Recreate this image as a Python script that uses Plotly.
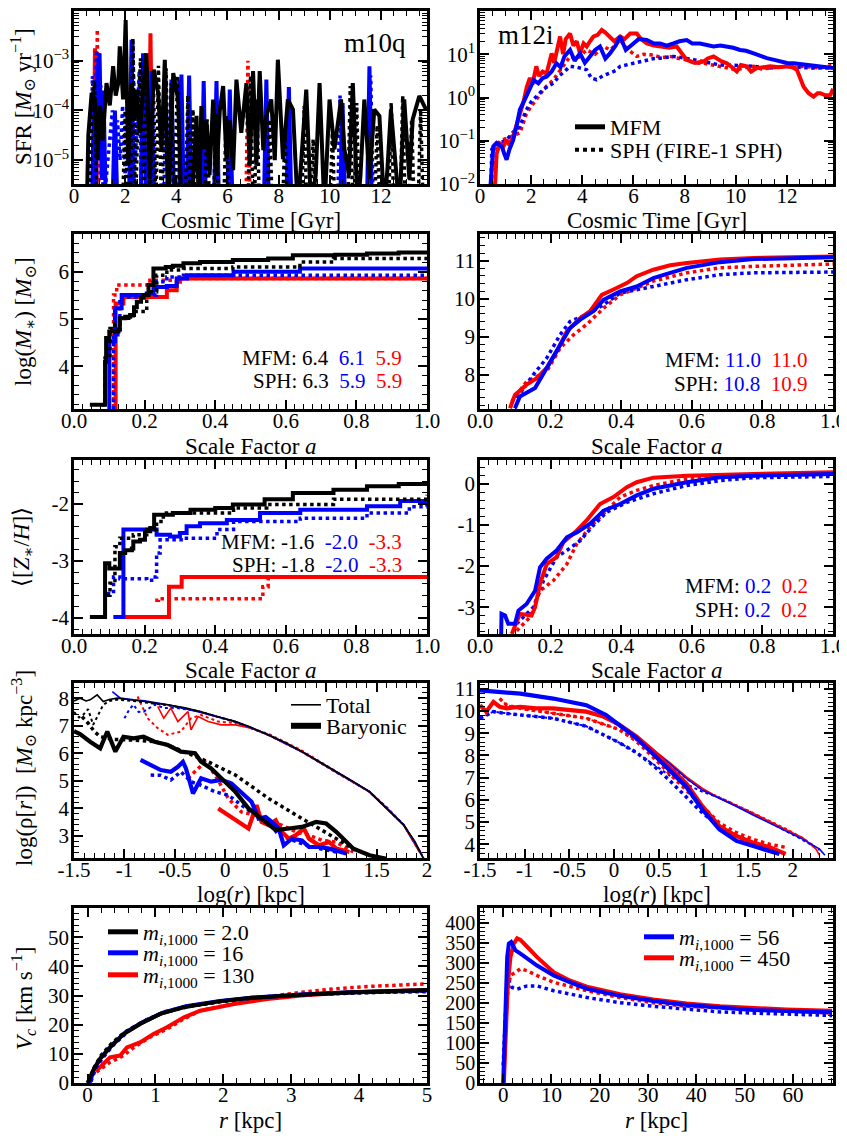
import plotly.graph_objects as go

FONT = "Liberation Serif, Tinos, Times New Roman, Nimbus Roman, DejaVu Serif, serif"
BLACK, BLUE, RED = "#000000", "#0000ff", "#ff0000"

# ---------------- Panel 1: m10q SFR, (cosmic time [Gyr], log10 SFR); -6 = no SF (below axis)
m10q_sfr_black_mfm = [(0.50,-6),(0.56,-4.5),(0.69,-3.65),(0.82,-3.78),(0.92,-5.0),(1.01,-3.91),(1.12,-4.6),(1.27,-3.45),(1.40,-3.9),(1.53,-3.11),(1.63,-3.7),(1.73,-3.45),(1.79,-2.71),(1.92,-3.78),(2.02,-2.18),(2.12,-5.11),(2.25,-3.45),(2.35,-4.2),(2.44,-3.58),(2.57,-4.45),(2.70,-3.6),(2.83,-2.85),(2.96,-5.38),(3.12,-3.18),(3.29,-3.65),(3.42,-4.8),(3.55,-2.98),(3.68,-6),(3.88,-3.25),(4.07,-3.78),(4.2,-6),(4.6,-6),(4.79,-4.11),(4.88,-6),(4.98,-3.91),(5.1,-4.78),(5.18,-4.2),(5.3,-5.3),(5.44,-3.78),(5.57,-5.31),(5.70,-4.0),(5.83,-3.51),(5.96,-4.98),(6.09,-4.2),(6.22,-5.2),(6.35,-3.38),(6.54,-4.45),(6.74,-3.45),(6.87,-5.11),(7.0,-3.21),(7.13,-5.11),(7.26,-3.21),(7.40,-4.8),(7.52,-4.11),(7.71,-3.78),(7.85,-5.0),(7.97,-2.98),(8.17,-4.98),(8.36,-3.78),(8.56,-3.98),(8.75,-6),(8.88,-5.05),(9.08,-3.58),(9.27,-6),(9.45,-5.3),(9.6,-3.45),(9.79,-6),(9.99,-3.78),(10.18,-4.78),(10.44,-3.78),(10.57,-4.78),(10.75,-5.3),(10.9,-3.45),(11.09,-6),(11.2,-5.3),(11.35,-3.78),(11.55,-5.38),(11.74,-3.98),(11.94,-4.11),(12.13,-6),(12.25,-5.2),(12.39,-3.98),(12.6,-5.38),(12.72,-6),(12.91,-3.78),(13.11,-5.38),(13.24,-4.18),(13.5,-3.71),(13.76,-3.98)]
m10q_sfr_black_sph = [(0.6,-6),(0.7,-4.0),(0.8,-3.4),(0.9,-6),(1.9,-6),(2.0,-4.0),(2.1,-6),(2.2,-6),(2.3,-2.55),(2.4,-6),(2.5,-4.2),(2.6,-2.95),(2.72,-6),(2.85,-3.15),(2.97,-6),(3.1,-3.3),(3.2,-6),(3.3,-3.1),(3.42,-6),(3.6,-3.15),(3.7,-6),(3.8,-3.45),(3.9,-6),(4.05,-3.3),(4.15,-6),(4.35,-6),(4.45,-3.7),(4.55,-6),(4.65,-3.98),(4.75,-6),(5.1,-6),(5.2,-4.18),(5.3,-6),(5.45,-6),(5.55,-4.05),(5.65,-6),(5.85,-6),(5.95,-4.11),(6.05,-6),(6.8,-6),(6.9,-3.3),(7.0,-6),(7.05,-6),(7.15,-3.78),(7.25,-6),(7.55,-6),(7.65,-4.18),(7.75,-6),(8.15,-6),(8.25,-4.45),(8.35,-6),(8.9,-6),(9.0,-3.91),(9.1,-6),(9.25,-6),(9.35,-4.58),(9.45,-6),(10.0,-6),(10.1,-4.45),(10.2,-6),(10.7,-6),(10.8,-3.51),(10.9,-6),(10.95,-6),(11.05,-3.85),(11.15,-6),(11.75,-6),(11.85,-4.3),(11.95,-6),(12.3,-6),(12.4,-3.85),(12.5,-6),(12.75,-6),(12.85,-3.71),(12.95,-6),(13.1,-6),(13.2,-4.18),(13.3,-6),(13.45,-6),(13.55,-3.98),(13.65,-6)]
m10q_sfr_blue_mfm = [(0.7,-6),(0.78,-3.7),(0.85,-6),(0.92,-3.2),(1.0,-2.85),(1.08,-5.4),(1.15,-3.6),(1.25,-6),(1.5,-6),(1.6,-4.0),(1.7,-6),(2.15,-6),(2.25,-2.58),(2.35,-6),(2.6,-6),(2.7,-2.85),(2.82,-6),(2.95,-6),(3.03,-3.21),(3.12,-6),(3.7,-6),(3.81,-3.38),(3.92,-6),(4.1,-6),(4.2,-3.28),(4.3,-6),(4.4,-6),(4.5,-3.3),(4.6,-6),(4.98,-6),(5.07,-3.41),(5.16,-6),(5.47,-6),(5.57,-3.41),(5.67,-6),(5.99,-6),(6.09,-3.58),(6.2,-6),(7.42,-6),(7.52,-3.38),(7.62,-6),(8.3,-6),(8.4,-3.53),(8.5,-6),(10.4,-6),(10.5,-3.85),(10.6,-6),(11.45,-6),(11.55,-3.11),(11.65,-6)]
m10q_sfr_blue_sph = [(0.65,-6),(0.72,-3.31),(0.8,-4.5),(0.88,-2.78),(0.95,-5.0),(1.05,-3.5),(1.15,-6),(1.5,-4.0),(1.6,-5.3),(1.7,-4.2),(1.8,-5.0),(1.9,-3.9),(2.0,-5.3),(2.1,-3.6),(2.2,-6),(2.3,-2.6),(2.4,-5.0),(2.55,-3.2),(2.65,-6),(2.95,-6),(3.05,-3.3),(3.15,-6),(3.5,-6),(3.6,-3.4),(3.7,-6),(4.0,-6),(4.1,-3.4),(4.2,-6),(10.3,-6),(10.4,-3.7),(10.5,-6),(11.5,-6),(11.6,-3.3),(11.7,-6)]
m10q_sfr_red_mfm = [(0.75,-6),(0.82,-2.75),(0.9,-6),(2.9,-6),(2.99,-2.45),(3.08,-6)]
m10q_sfr_red_sph = [(0.85,-6),(0.91,-2.37),(0.98,-6),(2.15,-6),(2.25,-2.9),(2.33,-6),(6.72,-6),(6.8,-3.0),(6.88,-6)]

# ---------------- Panel 2: m12i SFR
m12i_sfr_red_mfm = [(0.55,-2.5),(0.59,-1.98),(0.65,-1.3),(0.78,-1.05),(0.9,-1.15),(1.04,-0.98),(1.15,-1.1),(1.3,-0.9),(1.45,-0.6),(1.56,-0.36),(1.7,-0.1),(1.83,0.25),(1.95,0.45),(2.05,0.3),(2.2,0.72),(2.3,0.5),(2.45,0.6),(2.6,0.55),(2.7,0.75),(2.8,1.02),(2.9,0.8),(3.0,1.05),(3.13,1.41),(3.25,1.0),(3.35,1.35),(3.52,1.48),(3.65,1.2),(3.78,1.3),(3.91,1.02),(4.05,1.25),(4.17,1.18),(4.3,1.3),(4.43,1.41),(4.6,1.45),(4.76,1.56),(4.9,1.5),(5.08,1.41),(5.25,1.3),(5.48,1.41),(5.65,1.35),(5.87,1.48),(6.13,1.48),(6.3,1.35),(6.52,1.25),(6.8,1.2),(7.04,1.18),(7.4,1.15),(7.69,1.18),(7.9,1.0),(8.08,0.87),(8.4,0.8),(8.74,0.83),(8.9,0.9),(9.13,0.95),(9.4,0.85),(9.65,0.79),(9.85,0.7),(10.04,0.6),(10.2,0.75),(10.43,0.72),(10.6,0.6),(10.82,0.68),(11.1,0.7),(11.34,0.72),(11.7,0.7),(12.0,0.72),(12.2,0.7),(12.39,0.64),(12.55,0.4),(12.65,0.25),(12.85,0.1),(13.04,0.02),(13.2,0.1),(13.3,0.1),(13.5,0.05),(13.7,0.06),(13.8,0.2)]
m12i_sfr_red_sph = [(0.55,-2.2),(0.65,-1.13),(0.8,-1.0),(1.0,-0.95),(1.2,-0.9),(1.56,-0.82),(1.8,-0.4),(2.0,-0.2),(2.2,-0.05),(2.5,0.2),(2.87,0.41),(3.2,0.7),(3.52,0.95),(3.8,0.9),(4.17,1.1),(4.5,1.0),(4.82,1.18),(5.1,1.1),(5.48,1.33),(5.8,1.1),(6.13,0.95),(6.4,1.0),(6.78,0.98),(7.1,0.92),(7.43,0.95),(7.8,0.9),(8.08,0.87),(8.4,0.8),(8.74,0.79),(9.1,0.75),(9.39,0.72),(9.7,0.68),(10.04,0.64),(10.4,0.7),(10.7,0.72),(11.0,0.66),(11.34,0.68),(11.7,0.7),(12.0,0.72),(12.3,0.7),(12.65,0.72),(13.0,0.7),(13.3,0.68),(13.6,0.72),(13.8,0.75)]
m12i_sfr_blue_mfm = [(0.39,-2.2),(0.45,-1.5),(0.52,-1.13),(0.65,-1.05),(0.75,-1.1),(0.85,-1.13),(0.95,-1.3),(1.04,-1.44),(1.15,-1.2),(1.3,-0.98),(1.45,-0.6),(1.56,-0.28),(1.75,-0.05),(1.95,0.18),(2.1,0.4),(2.28,0.33),(2.45,0.45),(2.6,0.48),(2.8,0.6),(2.99,0.79),(3.15,0.7),(3.3,0.95),(3.52,1.1),(3.7,0.85),(3.91,1.02),(4.1,0.8),(4.3,0.95),(4.5,1.1),(4.69,1.18),(4.9,0.9),(5.08,1.02),(5.3,1.2),(5.48,1.41),(5.7,1.1),(6.0,1.25),(6.2,1.35),(6.52,1.33),(6.8,1.25),(7.04,1.25),(7.3,1.2),(7.56,1.25),(7.8,1.3),(8.08,1.33),(8.3,1.25),(8.6,1.25),(8.9,1.22),(9.13,1.18),(9.4,1.2),(9.65,1.18),(9.9,1.15),(10.17,1.1),(10.4,1.08),(10.7,1.02),(11.0,0.95),(11.21,0.91),(11.5,0.87),(11.74,0.83),(12.0,0.8),(12.26,0.79),(12.5,0.77),(12.78,0.75),(13.0,0.73),(13.3,0.72),(13.55,0.7),(13.8,0.68)]
m12i_sfr_blue_sph = [(0.42,-2.2),(0.46,-1.2),(0.6,-1.1),(0.8,-1.05),(1.04,-0.98),(1.3,-0.8),(1.56,-0.67),(1.8,-0.3),(2.0,-0.1),(2.2,0.02),(2.5,0.2),(2.87,0.33),(3.1,0.5),(3.3,0.6),(3.52,0.72),(3.8,0.7),(4.17,0.64),(4.35,0.45),(4.56,0.41),(4.8,0.5),(5.08,0.56),(5.3,0.62),(5.48,0.72),(5.7,0.75),(6.0,0.79),(6.3,0.84),(6.52,0.87),(6.8,0.9),(7.04,0.91),(7.3,0.93),(7.56,0.95),(7.8,0.93),(8.08,0.91),(8.4,0.87),(8.74,0.83),(9.0,0.8),(9.39,0.75),(9.7,0.75),(10.04,0.75),(10.4,0.73),(10.7,0.72),(11.0,0.7),(11.34,0.68),(11.7,0.7),(12.0,0.72),(12.3,0.7),(12.65,0.68),(13.0,0.68),(13.3,0.68),(13.8,0.68)]

# ---------------- Panel 3: m10q log M* vs scale factor (step curves)
m10q_mstar_black_mfm = [(0.045,3.19),(0.088,4.1),(0.091,4.6),(0.10,4.74),(0.126,4.78),(0.13,5.02),(0.145,5.05),(0.159,5.09),(0.17,5.25),(0.178,5.37),(0.19,5.45),(0.197,5.51),(0.211,5.72),(0.225,6.07),(0.26,6.1),(0.28,6.13),(0.31,6.18),(0.357,6.21),(0.45,6.25),(0.55,6.28),(0.62,6.35),(0.74,6.36),(0.83,6.39),(0.92,6.41),(1.0,6.42)]
m10q_mstar_black_sph = [(0.078,3.19),(0.088,4.18),(0.102,4.8),(0.116,4.9),(0.13,5.02),(0.168,5.16),(0.206,5.58),(0.234,5.93),(0.263,6.04),(0.31,6.07),(0.45,6.1),(0.64,6.21),(0.735,6.28),(1.0,6.32)]
m10q_mstar_blue_mfm = [(0.093,3.0),(0.10,4.53),(0.116,5.23),(0.135,5.51),(0.206,5.54),(0.225,5.68),(0.263,5.7),(0.291,5.86),(0.32,5.93),(0.452,6.0),(0.64,6.07),(1.0,6.1)]
m10q_mstar_blue_sph = [(0.105,3.0),(0.112,4.67),(0.13,5.47),(0.206,5.51),(0.234,5.79),(0.263,5.89),(0.31,5.93),(1.0,5.93)]
m10q_mstar_red_mfm = [(0.116,3.0),(0.118,5.33),(0.14,5.47),(0.263,5.61),(0.291,5.79),(0.30,5.86),(1.0,5.86)]
m10q_mstar_red_sph = [(0.11,3.0),(0.112,5.51),(0.121,5.72),(0.215,5.82),(0.291,5.86),(1.0,5.86)]

# ---------------- Panel 4: m12i log M*
m12i_mstar_red_mfm = [(0.085,7.12),(0.099,7.47),(0.132,7.74),(0.161,7.91),(0.189,8.18),(0.217,8.61),(0.246,9.14),(0.284,9.49),(0.312,9.67),(0.345,10.1),(0.378,10.24),(0.416,10.41),(0.444,10.59),(0.491,10.76),(0.539,10.88),(0.586,10.94),(0.68,11.03),(0.775,11.07),(1.0,11.11)]
m12i_mstar_red_sph = [(0.09,7.3),(0.132,7.82),(0.189,8.09),(0.227,8.7),(0.265,9.05),(0.302,9.32),(0.35,9.75),(0.397,10.1),(0.491,10.46),(0.586,10.68),(0.68,10.81),(0.775,10.85),(1.0,10.91)]
m12i_mstar_blue_mfm = [(0.099,7.12),(0.113,7.43),(0.156,7.65),(0.189,8.18),(0.227,8.79),(0.255,9.23),(0.284,9.45),(0.321,9.67),(0.35,9.97),(0.397,10.19),(0.444,10.32),(0.491,10.54),(0.539,10.68),(0.586,10.81),(0.68,10.96),(0.775,11.04),(1.0,11.09)]
m12i_mstar_blue_sph = [(0.104,7.39),(0.151,8.0),(0.189,8.44),(0.227,9.05),(0.255,9.4),(0.302,9.58),(0.35,9.84),(0.397,10.15),(0.491,10.32),(0.586,10.5),(0.68,10.63),(0.775,10.68),(1.0,10.7)]

# ---------------- Panel 5: m10q <[Z*/H]> (step curves)
m10q_z_black_mfm = [(0.045,-3.98),(0.088,-3.04),(0.10,-3.13),(0.13,-2.86),(0.145,-2.81),(0.164,-2.78),(0.168,-2.66),(0.187,-2.63),(0.201,-2.48),(0.216,-2.42),(0.227,-2.19),(0.28,-2.16),(0.33,-2.1),(0.40,-2.07),(0.45,-2.01),(0.54,-1.92),(0.62,-1.81),(0.735,-1.75),(0.83,-1.69),(0.92,-1.65),(1.0,-1.6)]
m10q_z_black_sph = [(0.093,-3.6),(0.102,-3.39),(0.116,-2.75),(0.13,-2.6),(0.168,-2.54),(0.206,-2.45),(0.234,-2.31),(0.253,-2.16),(0.31,-2.16),(0.452,-2.07),(0.546,-2.01),(0.735,-1.92),(1.0,-1.84)]
m10q_z_blue_mfm = [(0.112,-3.98),(0.14,-2.45),(0.216,-2.45),(0.234,-2.54),(0.272,-2.57),(0.30,-2.51),(0.319,-2.39),(0.357,-2.34),(0.433,-2.28),(0.527,-2.16),(0.641,-2.1),(0.83,-2.04),(0.924,-1.95),(1.0,-1.95)]
m10q_z_blue_sph = [(0.093,-3.57),(0.112,-3.28),(0.13,-3.31),(0.206,-3.34),(0.225,-3.28),(0.234,-2.86),(0.244,-2.63),(0.31,-2.6),(0.405,-2.45),(0.452,-2.31),(0.641,-2.25),(0.83,-2.16),(0.95,-2.05),(1.0,-2.01)]
m10q_z_red_mfm = [(0.112,-3.98),(0.269,-3.45),(0.305,-3.28),(1.0,-3.28)]
m10q_z_red_sph = [(0.23,-3.69),(0.239,-3.66),(0.535,-3.45),(0.55,-3.31),(0.56,-3.28),(1.0,-3.28)]

# ---------------- Panel 6: m12i <[Z*/H]>
m12i_z_blue_mfm = [(0.06,-3.65),(0.061,-3.16),(0.071,-3.2),(0.08,-3.4),(0.099,-3.4),(0.109,-3.08),(0.132,-2.92),(0.156,-2.6),(0.17,-2.03),(0.189,-1.82),(0.217,-1.62),(0.246,-1.3),(0.274,-1.18),(0.312,-0.97),(0.35,-0.65),(0.397,-0.49),(0.444,-0.28),(0.491,-0.12),(0.586,0.04),(0.68,0.16),(0.775,0.2),(1.0,0.24)]
m12i_z_red_mfm = [(0.09,-3.65),(0.113,-3.16),(0.146,-3.2),(0.156,-3.0),(0.17,-2.43),(0.189,-1.95),(0.217,-1.78),(0.236,-1.42),(0.274,-1.14),(0.302,-0.89),(0.34,-0.49),(0.378,-0.32),(0.416,-0.08),(0.444,0.04),(0.491,0.15),(0.586,0.2),(0.775,0.24),(1.0,0.28)]
m12i_z_red_sph = [(0.104,-3.57),(0.142,-3.24),(0.17,-2.6),(0.208,-2.35),(0.246,-1.95),(0.274,-1.46),(0.312,-1.05),(0.359,-0.65),(0.397,-0.32),(0.444,-0.16),(0.491,-0.04),(0.586,0.12),(0.775,0.2),(1.0,0.24)]
m12i_z_blue_sph = [(0.104,-3.4),(0.151,-3.0),(0.18,-2.35),(0.217,-1.78),(0.246,-1.62),(0.284,-1.38),(0.321,-1.01),(0.359,-0.69),(0.416,-0.45),(0.491,-0.24),(0.586,-0.04),(0.68,0.08),(0.775,0.15),(1.0,0.18)]

# ---------------- Panel 7: m10q density profiles (log r [kpc], log rho)
m10q_rho_total_black_mfm = [(-1.5,7.9),(-1.44,8.0),(-1.38,7.9),(-1.34,7.94),(-1.27,8.12),(-1.21,7.88),(-1.15,7.95),(-1.07,8.0),(-1.0,7.97),(-0.91,7.94),(-0.8,7.88),(-0.7,7.82),(-0.57,7.76),(-0.4,7.65),(-0.24,7.51),(-0.1,7.35),(0.1,7.15),(0.25,6.95),(0.43,6.67),(0.6,6.38),(0.76,6.06),(0.93,5.7),(1.1,5.33),(1.27,4.97),(1.43,4.6),(1.6,4.0),(1.77,3.39),(1.88,2.8),(1.95,2.3),(2.0,1.9)]
m10q_rho_total_black_sph = [(-1.5,7.5),(-1.45,7.3),(-1.41,7.39),(-1.36,7.6),(-1.31,7.03),(-1.25,7.5),(-1.21,7.76),(-1.15,7.9),(-1.07,7.94),(-0.91,7.9),(-0.7,7.8),(-0.57,7.74),(-0.4,7.63),(-0.24,7.5),(0.1,7.13),(0.43,6.66),(0.76,6.06),(1.1,5.33),(1.43,4.6),(1.6,4.0),(1.77,3.4),(1.95,2.3),(2.0,1.9)]
m10q_rho_total_blue_mfm = [(-1.12,8.24),(-1.04,8.0),(-0.91,7.94),(-0.8,7.9),(-0.57,7.76),(-0.24,7.48),(0.1,7.15),(0.43,6.67),(0.76,6.06),(1.1,5.33),(1.43,4.62),(1.6,4.02),(1.77,3.4),(1.93,2.45),(2.0,1.95)]
m10q_rho_total_blue_sph = [(-1.0,7.27),(-0.95,7.6),(-0.91,7.76),(-0.86,7.5),(-0.81,7.51),(-0.75,7.65),(-0.7,7.76),(-0.6,7.64),(-0.5,7.65),(-0.3,7.55),(0.1,7.15),(0.43,6.66),(0.76,6.05),(1.1,5.3),(1.43,4.6),(1.6,4.0),(1.77,3.4),(1.93,2.4)]
m10q_rho_total_red_mfm = [(-0.67,7.7),(-0.61,7.27),(-0.54,7.64),(-0.47,7.15),(-0.37,7.51),(-0.34,6.85),(-0.27,7.33),(-0.17,7.15),(-0.04,7.03),(0.1,7.03),(0.26,6.91),(0.43,6.66),(0.76,6.05),(1.1,5.33),(1.43,4.6),(1.6,4.0),(1.77,3.38),(1.93,2.4)]
m10q_rho_total_red_sph = [(-0.87,8.06),(-0.8,7.5),(-0.77,7.27),(-0.67,6.91),(-0.57,6.67),(-0.44,6.79),(-0.34,7.27),(-0.24,7.39),(-0.07,7.15),(0.1,7.1),(0.43,6.7),(0.76,6.1),(1.1,5.35),(1.43,4.6),(1.6,4.05),(1.77,3.4),(1.93,2.45)]
m10q_rho_bary_black_mfm = [(-1.5,6.8),(-1.44,6.7),(-1.34,6.42),(-1.24,6.18),(-1.17,6.79),(-1.09,6.06),(-1.01,6.6),(-0.91,6.54),(-0.81,6.6),(-0.7,6.42),(-0.57,6.3),(-0.44,6.06),(-0.3,6.0),(-0.24,5.69),(-0.14,5.45),(0.0,4.97),(0.1,4.6),(0.23,4.0),(0.36,3.63),(0.5,3.21),(0.63,3.27),(0.76,3.33),(0.9,3.51),(1.0,3.45),(1.1,3.15),(1.27,2.54),(1.43,2.3),(1.6,2.17)]
m10q_rho_bary_black_sph = [(-1.42,7.33),(-1.36,7.09),(-1.3,6.8),(-1.24,6.6),(-1.1,6.5),(-0.91,6.48),(-0.7,6.42),(-0.57,6.3),(-0.37,6.0),(-0.17,5.69),(0.1,5.21),(0.43,4.36),(0.76,3.63),(1.1,2.9),(1.3,2.48)]
m10q_rho_bary_blue_mfm = [(-0.84,5.76),(-0.74,5.57),(-0.64,5.39),(-0.54,5.33),(-0.47,5.51),(-0.42,5.69),(-0.39,5.45),(-0.32,4.54),(-0.24,5.09),(-0.14,4.97),(-0.04,5.03),(0.06,4.91),(0.16,4.6),(0.26,4.24),(0.33,3.63),(0.4,3.69),(0.46,3.51),(0.53,3.27),(0.58,2.66),(0.66,2.9),(0.76,2.84),(0.83,2.6),(0.93,2.6),(1.03,2.54),(1.2,2.36)]
m10q_rho_bary_blue_sph = [(-0.74,5.21),(-0.64,5.2),(-0.54,5.03),(-0.44,5.33),(-0.34,4.97),(-0.24,4.84),(-0.1,4.6),(0.03,4.48),(0.16,4.12),(0.3,3.75),(0.43,3.51),(0.53,3.03),(0.63,2.9),(0.76,2.72),(0.93,2.54),(1.1,2.42)]
m10q_rho_bary_red_mfm = [(-0.07,4.0),(0.23,3.27),(0.31,4.12),(0.36,3.51),(0.43,3.39),(0.5,3.57),(0.56,3.15),(0.63,2.9),(0.7,3.03),(0.78,3.27),(0.83,2.9),(0.93,2.66),(1.03,2.78),(1.1,2.54),(1.23,2.42)]
m10q_rho_bary_red_sph = [(-0.37,5.09),(-0.27,5.45),(-0.2,5.69),(-0.1,5.21),(0.03,4.36),(0.16,3.87),(0.3,3.75),(0.43,3.51),(0.56,3.39),(0.7,3.15),(0.83,3.03),(0.96,2.84),(1.1,2.78),(1.27,2.42)]

# ---------------- Panel 8: m12i density profiles
m12i_rho_total_blue_mfm = [(-1.5,10.93),(-1.05,10.78),(-0.68,10.56),(-0.31,10.26),(-0.09,9.82),(0.06,9.38),(0.25,8.75),(0.44,8.22),(0.62,7.63),(0.81,6.97),(0.99,6.43),(1.18,6.07),(1.37,5.7),(1.55,5.33),(1.74,4.96),(1.92,4.59),(2.11,4.23),(2.3,3.78),(2.36,3.5)]
m12i_rho_total_red_mfm = [(-1.5,10.26),(-1.43,9.97),(-1.35,10.41),(-1.28,10.19),(-1.2,10.12),(-1.05,10.19),(-0.87,10.12),(-0.68,10.12),(-0.49,10.04),(-0.31,9.97),(-0.12,9.75),(0.06,9.38),(0.25,8.86),(0.44,8.28),(0.62,7.69),(0.81,7.03),(0.99,6.51),(1.18,6.07),(1.55,5.4),(1.92,4.67),(2.11,4.3),(2.26,3.78),(2.3,3.5)]
m12i_rho_total_blue_sph = [(-1.5,9.67),(-1.35,9.97),(-1.05,9.82),(-0.68,9.67),(-0.31,9.31),(-0.12,8.94),(0.06,8.57),(0.25,8.13),(0.44,7.6),(0.62,7.1),(0.81,6.7),(0.99,6.36),(1.18,6.1),(1.55,5.4),(1.92,4.6),(2.11,4.2),(2.3,3.75)]
m12i_rho_total_red_sph = [(-1.28,10.56),(-1.2,10.26),(-1.05,10.12),(-0.68,9.9),(-0.31,9.67),(0.06,9.16),(0.25,8.68),(0.44,8.05),(0.62,7.5),(0.81,6.95),(0.99,6.45),(1.18,6.1),(1.55,5.42),(1.92,4.7),(2.1,4.3),(2.25,3.9)]
m12i_rho_bary_blue_mfm = [(-1.5,10.93),(-1.05,10.78),(-0.68,10.56),(-0.31,10.26),(-0.09,9.82),(0.06,9.38),(0.25,8.79),(0.44,8.05),(0.62,7.32),(0.81,6.58),(0.99,5.55),(1.18,4.67),(1.37,4.15),(1.55,3.93),(1.74,3.71),(1.85,3.56)]
m12i_rho_bary_red_mfm = [(-1.5,10.26),(-1.43,9.97),(-1.35,10.41),(-1.28,10.19),(-1.2,10.12),(-1.05,10.19),(-0.87,10.12),(-0.68,10.12),(-0.49,10.04),(-0.31,9.97),(-0.12,9.75),(0.06,9.38),(0.25,8.86),(0.44,8.2),(0.62,7.47),(0.81,6.73),(0.99,5.7),(1.18,4.81),(1.37,4.37),(1.55,4.08),(1.74,3.86),(1.92,3.56)]
m12i_rho_bary_blue_sph = [(-1.5,9.67),(-1.35,9.97),(-1.24,9.9),(-1.05,9.82),(-0.68,9.67),(-0.31,9.31),(-0.12,8.94),(0.06,8.57),(0.25,8.13),(0.44,7.54),(0.62,6.88),(0.81,6.14),(0.99,5.4),(1.18,4.81),(1.37,4.37),(1.55,4.0),(1.7,3.71)]
m12i_rho_bary_red_sph = [(-1.28,10.56),(-1.2,10.26),(-1.05,10.12),(-0.68,9.9),(-0.31,9.67),(0.06,9.16),(0.25,8.64),(0.44,7.91),(0.62,7.17),(0.81,6.43),(0.99,5.7),(1.18,4.96),(1.37,4.52),(1.55,4.23),(1.74,4.0),(1.92,3.86)]

# ---------------- Panel 9: m10q circular velocity (r [kpc], Vc [km/s])
m10q_vc_black_mfm = [(0.0,0.0),(0.08,4.2),(0.18,8.2),(0.33,12.2),(0.53,16.8),(0.78,20.3),(1.07,23.7),(1.42,26.0),(1.91,27.9),(2.41,29.2),(3.15,30.3),(3.89,31.1),(5.0,31.9)]
m10q_vc_black_sph = [(0.02,0.5),(0.1,5.5),(0.2,9.5),(0.35,13.5),(0.55,17.5),(0.8,20.8),(1.1,24.0),(1.5,26.3),(2.0,28.0),(2.5,29.3),(3.2,30.3),(4.0,31.0),(5.0,31.6)]
m10q_vc_blue_mfm = [(0.03,0.0),(0.1,5.0),(0.2,8.8),(0.35,12.8),(0.55,17.2),(0.8,20.7),(1.1,24.0),(1.45,26.3),(1.95,28.1),(2.45,29.3),(3.2,30.4),(3.9,31.1),(5.0,31.7)]
m10q_vc_blue_sph = [(0.05,0.5),(0.12,5.0),(0.22,8.5),(0.38,13.0),(0.6,17.8),(0.85,21.5),(1.15,24.5),(1.5,26.5),(2.0,28.2),(2.5,29.3),(3.2,30.3),(4.0,31.0),(5.0,31.3)]
m10q_vc_red_mfm = [(0.13,4.2),(0.23,6.5),(0.33,8.8),(0.48,9.4),(0.58,12.2),(0.78,14.0),(0.97,16.8),(1.17,19.1),(1.42,22.5),(1.66,24.8),(2.16,27.1),(2.65,28.8),(3.15,30.0),(3.89,31.1),(5.0,31.9)]
m10q_vc_red_sph = [(0.13,3.7),(0.23,5.5),(0.33,7.1),(0.43,8.2),(0.53,9.4),(0.68,12.2),(0.92,15.7),(1.17,18.5),(1.42,22.0),(1.66,24.8),(2.16,27.1),(2.65,29.6),(3.15,31.1),(3.64,32.3),(4.14,33.1),(5.0,34.0)]

# ---------------- Panel 10: m12i circular velocity
m12i_vc_blue_mfm = [(0.0,0.0),(0.28,103),(0.55,230),(0.83,315),(1.17,349),(1.65,353),(2.55,332),(3.58,324),(7.02,294),(10.46,269),(13.9,252),(17.34,236),(24.2,218),(31.1,205),(38.0,195),(44.9,188),(51.8,183),(58.6,180),(68.1,177)]
m12i_vc_red_mfm = [(0.14,0.0),(0.48,129),(0.96,247),(1.51,315),(2.2,349),(2.89,362),(3.58,358),(4.96,341),(7.02,315),(10.46,277),(13.9,256),(17.34,241),(24.2,222),(31.1,209),(38.0,199),(44.9,192),(51.8,188),(58.6,184),(68.1,181)]
m12i_vc_red_sph = [(0.14,10),(0.48,146),(0.96,230),(1.51,269),(2.55,277),(3.58,286),(4.96,281),(7.02,269),(10.46,252),(17.34,231),(24.2,214),(31.1,201),(38.0,192),(51.8,184),(68.1,175)]
m12i_vc_blue_sph = [(0.0,44),(0.28,146),(0.69,230),(1.17,256),(1.86,239),(2.89,235),(4.96,243),(7.02,243),(10.46,231),(17.34,214),(24.2,201),(31.1,192),(38.0,184),(44.9,178),(51.8,175),(68.1,169)]

# ---------------- legend / labels text
legend_method = ["MFM", "SPH (FIRE-1 SPH)"]
legend_profile = ["Total", "Baryonic"]
legend_m10q = ["2.0", "16", "130"]
legend_m12i = ["56", "450"]
sfr_tick_m10q = [1e-5, 1e-4, 1e-3, 1e-2]
sfr_tick_m12i = [1e-2, 1e-1, 1e0, 1e1, 1e2]
sfr_tick_m10q_text = ["10<sup>−5</sup>", "10<sup>−4</sup>", "10<sup>−3</sup>", "10<sup>−2</sup>"]
sfr_tick_m12i_text = ["10<sup>−2</sup>", "10<sup>−1</sup>", "10<sup>0</sup>", "10<sup>1</sup>", "10<sup>2</sup>"]

# =====================================================================
# Page has an 8px body margin: positions below are in screen pixels of the
# 847x1136 window; the figure itself is made 8px smaller so it fits.
OFF = 8
W, H = 847 - OFF, 1136 - OFF
COLS = [(74, 427), (480, 833)]
ROWS = [(11, 184), (234, 409), (460, 634), (683, 858), (908, 1083)]


def px_x(x):
    return (x - OFF) / W


def px_y(y):
    return 1 - (y - OFF) / H


fig = go.Figure()


def ids(k):
    return ("x" if k == 1 else f"x{k}", "y" if k == 1 else f"y{k}")


def add(k, pts, color, width, dash="solid", shape="linear", logy=False):
    xa, ya = ids(k)
    xs = [p[0] for p in pts]
    ys = [10 ** p[1] if logy else p[1] for p in pts]
    fig.add_trace(go.Scatter(x=xs, y=ys, mode="lines",
                             line=dict(color=color, width=width, dash=dash, shape=shape),
                             xaxis=xa, yaxis=ya, showlegend=False, hoverinfo="skip"))


SW, DW = 4.0, 3.5  # solid / dotted widths

# Panel 1
add(1, m10q_sfr_red_sph, RED, DW, "dot", logy=True)
add(1, m10q_sfr_red_mfm, RED, SW, logy=True)
add(1, m10q_sfr_blue_sph, BLUE, DW, "dot", logy=True)
add(1, m10q_sfr_blue_mfm, BLUE, SW, logy=True)
add(1, m10q_sfr_black_sph, BLACK, DW, "dot", logy=True)
add(1, m10q_sfr_black_mfm, BLACK, SW, logy=True)
# Panel 2
add(2, m12i_sfr_red_sph, RED, DW, "dot", logy=True)
add(2, m12i_sfr_blue_sph, BLUE, DW, "dot", logy=True)
add(2, m12i_sfr_red_mfm, RED, SW, logy=True)
add(2, m12i_sfr_blue_mfm, BLUE, SW, logy=True)
# Panel 3
add(3, m10q_mstar_red_sph, RED, DW, "dot", "hv")
add(3, m10q_mstar_red_mfm, RED, SW, shape="hv")
add(3, m10q_mstar_blue_sph, BLUE, DW, "dot", "hv")
add(3, m10q_mstar_blue_mfm, BLUE, SW, shape="hv")
add(3, m10q_mstar_black_sph, BLACK, DW, "dot", "hv")
add(3, m10q_mstar_black_mfm, BLACK, SW, shape="hv")
# Panel 4
add(4, m12i_mstar_red_sph, RED, DW, "dot")
add(4, m12i_mstar_blue_sph, BLUE, DW, "dot")
add(4, m12i_mstar_red_mfm, RED, SW)
add(4, m12i_mstar_blue_mfm, BLUE, SW)
# Panel 5
add(5, m10q_z_red_sph, RED, DW, "dot", "hv")
add(5, m10q_z_red_mfm, RED, SW, shape="hv")
add(5, m10q_z_blue_sph, BLUE, DW, "dot", "hv")
add(5, m10q_z_blue_mfm, BLUE, SW, shape="hv")
add(5, m10q_z_black_sph, BLACK, DW, "dot", "hv")
add(5, m10q_z_black_mfm, BLACK, SW, shape="hv")
# Panel 6
add(6, m12i_z_red_sph, RED, DW, "dot")
add(6, m12i_z_blue_sph, BLUE, DW, "dot")
add(6, m12i_z_red_mfm, RED, SW)
add(6, m12i_z_blue_mfm, BLUE, SW)
# Panel 7
TW, BW = 1.6, 4.2
add(7, m10q_rho_total_red_sph, RED, 2.0, "dot")
add(7, m10q_rho_total_blue_sph, BLUE, 2.0, "dot")
add(7, m10q_rho_total_black_sph, BLACK, 2.0, "dot")
add(7, m10q_rho_total_red_mfm, RED, TW)
add(7, m10q_rho_total_blue_mfm, BLUE, TW)
add(7, m10q_rho_total_black_mfm, BLACK, TW)
add(7, m10q_rho_bary_red_sph, RED, DW, "dot")
add(7, m10q_rho_bary_blue_sph, BLUE, DW, "dot")
add(7, m10q_rho_bary_black_sph, BLACK, DW, "dot")
add(7, m10q_rho_bary_red_mfm, RED, BW)
add(7, m10q_rho_bary_blue_mfm, BLUE, BW)
add(7, m10q_rho_bary_black_mfm, BLACK, BW)
# Panel 8
add(8, m12i_rho_total_red_sph, RED, 2.0, "dot")
add(8, m12i_rho_total_blue_sph, BLUE, 2.0, "dot")
add(8, m12i_rho_bary_red_sph, RED, DW, "dot")
add(8, m12i_rho_bary_blue_sph, BLUE, DW, "dot")
add(8, m12i_rho_total_red_mfm, RED, TW)
add(8, m12i_rho_total_blue_mfm, BLUE, TW)
add(8, m12i_rho_bary_red_mfm, RED, BW)
add(8, m12i_rho_bary_blue_mfm, BLUE, BW)
# Panel 9
add(9, m10q_vc_red_sph, RED, DW, "dot")
add(9, m10q_vc_red_mfm, RED, SW)
add(9, m10q_vc_blue_sph, BLUE, DW, "dot")
add(9, m10q_vc_blue_mfm, BLUE, SW)
add(9, m10q_vc_black_sph, BLACK, DW, "dot")
add(9, m10q_vc_black_mfm, BLACK, SW)
# Panel 10
add(10, m12i_vc_red_sph, RED, DW, "dot")
add(10, m12i_vc_blue_sph, BLUE, DW, "dot")
add(10, m12i_vc_red_mfm, RED, SW)
add(10, m12i_vc_blue_mfm, BLUE, SW)


# ---------------- axes
def base_axis(size=21):
    return dict(showline=True, linecolor="black", linewidth=2.5, mirror="allticks",
                ticks="inside", ticklen=9, tickwidth=1.6, tickcolor="black",
                showgrid=False, zeroline=False,
                tickfont=dict(family=FONT, size=size, color="black"))


def minor(dtick=None, length=5):
    d = dict(ticks="inside", ticklen=length, tickwidth=1.2, tickcolor="black", showgrid=False)
    if dtick is not None:
        d["dtick"] = dtick
    return d


def set_axes(k, xkw, ykw):
    r, c = divmod(k - 1, 2)
    x0, x1 = COLS[c]
    y0, y1 = ROWS[r]
    xa, ya = ids(k)
    xd = base_axis(); xd.update(domain=[px_x(x0), px_x(x1)], anchor=ya, ticklabelstandoff=-9); xd.update(xkw)
    yd = base_axis(); yd.update(domain=[px_y(y1), px_y(y0)], anchor=xa, ticklabelstandoff=-2); yd.update(ykw)
    fig.update_layout({("xaxis" if k == 1 else f"xaxis{k}"): xd,
                       ("yaxis" if k == 1 else f"yaxis{k}"): yd})


def arr(vals, labels):
    return dict(tickmode="array", tickvals=vals, ticktext=labels)


time_x = dict(range=[0, 13.8], tickmode="linear", tick0=0, dtick=2, minor=minor(0.5))
a_x = dict(range=[0, 1.0], tickmode="linear", tick0=0, dtick=0.2, tickformat=".1f", minor=minor(0.025))
logr_ticks = [-1.5, -1, -0.5, 0, 0.5, 1, 1.5, 2]
logr_labels = ["-1.5", "-1", "-0.5", "0", "0.5", "1", "1.5", "2"]

set_axes(1, time_x, dict(type="log", range=[-5.48, -2], **arr(sfr_tick_m10q, sfr_tick_m10q_text), minor=minor("D1")))
set_axes(2, time_x, dict(type="log", range=[-2, 2], **arr(sfr_tick_m12i, sfr_tick_m12i_text), minor=minor("D1")))
set_axes(3, a_x, dict(range=[3.1, 6.8], tickmode="linear", tick0=4, dtick=1, minor=minor(0.2)))
set_axes(4, a_x, dict(range=[7.1, 11.7], tickmode="linear", tick0=8, dtick=1, minor=minor(0.2)))
set_axes(5, a_x, dict(range=[-4.28, -1.23], **arr([-4, -3, -2], ["-4", "-3", "-2"]), minor=minor(0.2)))
set_axes(6, a_x, dict(range=[-3.65, 0.58], **arr([-3, -2, -1, 0], ["-3", "-2", "-1", "0"]), minor=minor(0.2)))
set_axes(7, dict(range=[-1.5, 2.0], **arr(logr_ticks, logr_labels), minor=minor(0.1)),
         dict(range=[2.2, 8.55], tickmode="linear", tick0=3, dtick=1, minor=minor(0.2)))
set_axes(8, dict(range=[-1.5, 2.45], **arr(logr_ticks, logr_labels), minor=minor(0.1)),
         dict(range=[3.38, 11.26], tickmode="linear", tick0=4, dtick=1, minor=minor(0.2)))
set_axes(9, dict(range=[-0.2, 5.0], tickmode="linear", tick0=0, dtick=1, minor=minor(0.2)),
         dict(range=[0, 60], tickmode="array", tickvals=[0, 10, 20, 30, 40, 50], minor=minor(2)))
set_axes(10, dict(range=[-4.8, 68.3], tickmode="linear", tick0=0, dtick=10, minor=minor(2)),
         dict(range=[0, 438], tickmode="array", tickvals=list(range(0, 401, 50)), minor=minor(10),
              tickfont=dict(family=FONT, size=20, color="black")))


# ---------------- text
def ann(text, x_px, y_px, size=23, angle=0, xanchor="center", yanchor="middle"):
    fig.add_annotation(text=text, x=px_x(x_px), y=px_y(y_px), xref="paper", yref="paper",
                       showarrow=False, textangle=angle, xanchor=xanchor, yanchor=yanchor,
                       font=dict(family=FONT, size=size, color="black"))


for cx in (250.5, 656.5):
    ann("Cosmic Time [Gyr]", cx, 221)
    ann("Scale Factor <i>a</i>", cx, 446)
    ann("Scale Factor <i>a</i>", cx, 670)
    ann("log(<i>r</i>) [kpc]", cx, 894)
    ann("<i>r</i> [kpc]", cx, 1120)

ann("SFR [<i>M</i><sub>⊙</sub> yr<sup>−1</sup>]", 23, 97, angle=-90)
ann("log(<i>M</i><sub>∗</sub>) [<i>M</i><sub>⊙</sub>]", 25, 322, angle=-90)
ann("⟨[<i>Z</i><sub>∗</sub>/<i>H</i>]⟩", 23, 547, angle=-90)
ann("log(ρ[<i>r</i>])  [<i>M</i><sub>⊙</sub> kpc<sup>−3</sup>]", 23, 768, angle=-90)
ann("<i>V</i><sub><i>c</i></sub> [km s<sup>−1</sup>]", 23, 998, angle=-90)

ann("m10q", 408, 43, size=27, xanchor="right")
ann("m12i", 496, 35, size=27, xanchor="left")

NB = "\u00a0"


def c(txt, col):
    return f'<span style="color:{col}">{txt}</span>'


ann(f"MFM: 6.4{NB*2}{c('6.1', BLUE)}{NB*2}{c('5.9', RED)}", 404, 358, size=21, xanchor="right")
ann(f"SPH: 6.3{NB*2}{c('5.9', BLUE)}{NB*2}{c('5.9', RED)}", 404, 381, size=21, xanchor="right")
ann(f"MFM: {c('11.0', BLUE)}{NB*2}{c('11.0', RED)}", 810, 360, size=21, xanchor="right")
ann(f"SPH: {c('10.8', BLUE)}{NB*2}{c('10.9', RED)}", 810, 384, size=21, xanchor="right")
ann(f"MFM: -1.6{NB*2}{c('-2.0', BLUE)}{NB*2}{c('-3.3', RED)}", 404, 542, size=21, xanchor="right")
ann(f"SPH: -1.8{NB*2}{c('-2.0', BLUE)}{NB*2}{c('-3.3', RED)}", 404, 565, size=21, xanchor="right")
ann(f"MFM: {c('0.2', BLUE)}{NB*2}{c('0.2', RED)}", 810, 586, size=21, xanchor="right")
ann(f"SPH: {c('0.2', BLUE)}{NB*2}{c('0.2', RED)}", 810, 610, size=21, xanchor="right")

# ---------------- legends (one legend per entry for exact placement)
legend_specs = []  # (name, color, width, dash, text_x_px, y_px)
legend_specs.append((legend_method[0], BLACK, 5, "solid", 614, 127))
legend_specs.append((legend_method[1], BLACK, 4, "dot", 614, 150))
legend_specs.append((legend_profile[0], BLACK, 1.6, "solid", 330, 705))
legend_specs.append((legend_profile[1], BLACK, 6, "solid", 330, 726))
for val, col, yy in zip(legend_m10q, [BLACK, BLUE, RED], [932, 953, 975]):
    legend_specs.append((f"<i>m</i><sub><i>i</i>,1000</sub> = {val}", col, 5, "solid", 147, yy))
for val, col, yy in zip(legend_m12i, [BLUE, RED], [937, 958]):
    legend_specs.append((f"<i>m</i><sub><i>i</i>,1000</sub> = {val}", col, 5, "solid", 683, yy))

legend_layout = {}
for i, (name, col, wdt, dash, tx, ty) in enumerate(legend_specs):
    lname = "legend" if i == 0 else f"legend{i + 1}"
    fig.add_trace(go.Scatter(x=[None], y=[None], mode="lines", name=name,
                             line=dict(color=col, width=wdt, dash=dash),
                             legend=lname, showlegend=True, hoverinfo="skip"))
    legend_layout[lname] = dict(x=px_x(tx - 44), y=px_y(ty), xanchor="left", yanchor="middle",
                                bgcolor="rgba(0,0,0,0)", borderwidth=0,
                                font=dict(family=FONT, size=22, color="black"))

fig.update_layout(**legend_layout)
fig.update_layout(width=W, height=H, margin=dict(l=0, r=0, t=0, b=0, autoexpand=False),
                  paper_bgcolor="white", plot_bgcolor="white", showlegend=True,
                  font=dict(family=FONT, color="black"))

fig.write_html("out.html")
